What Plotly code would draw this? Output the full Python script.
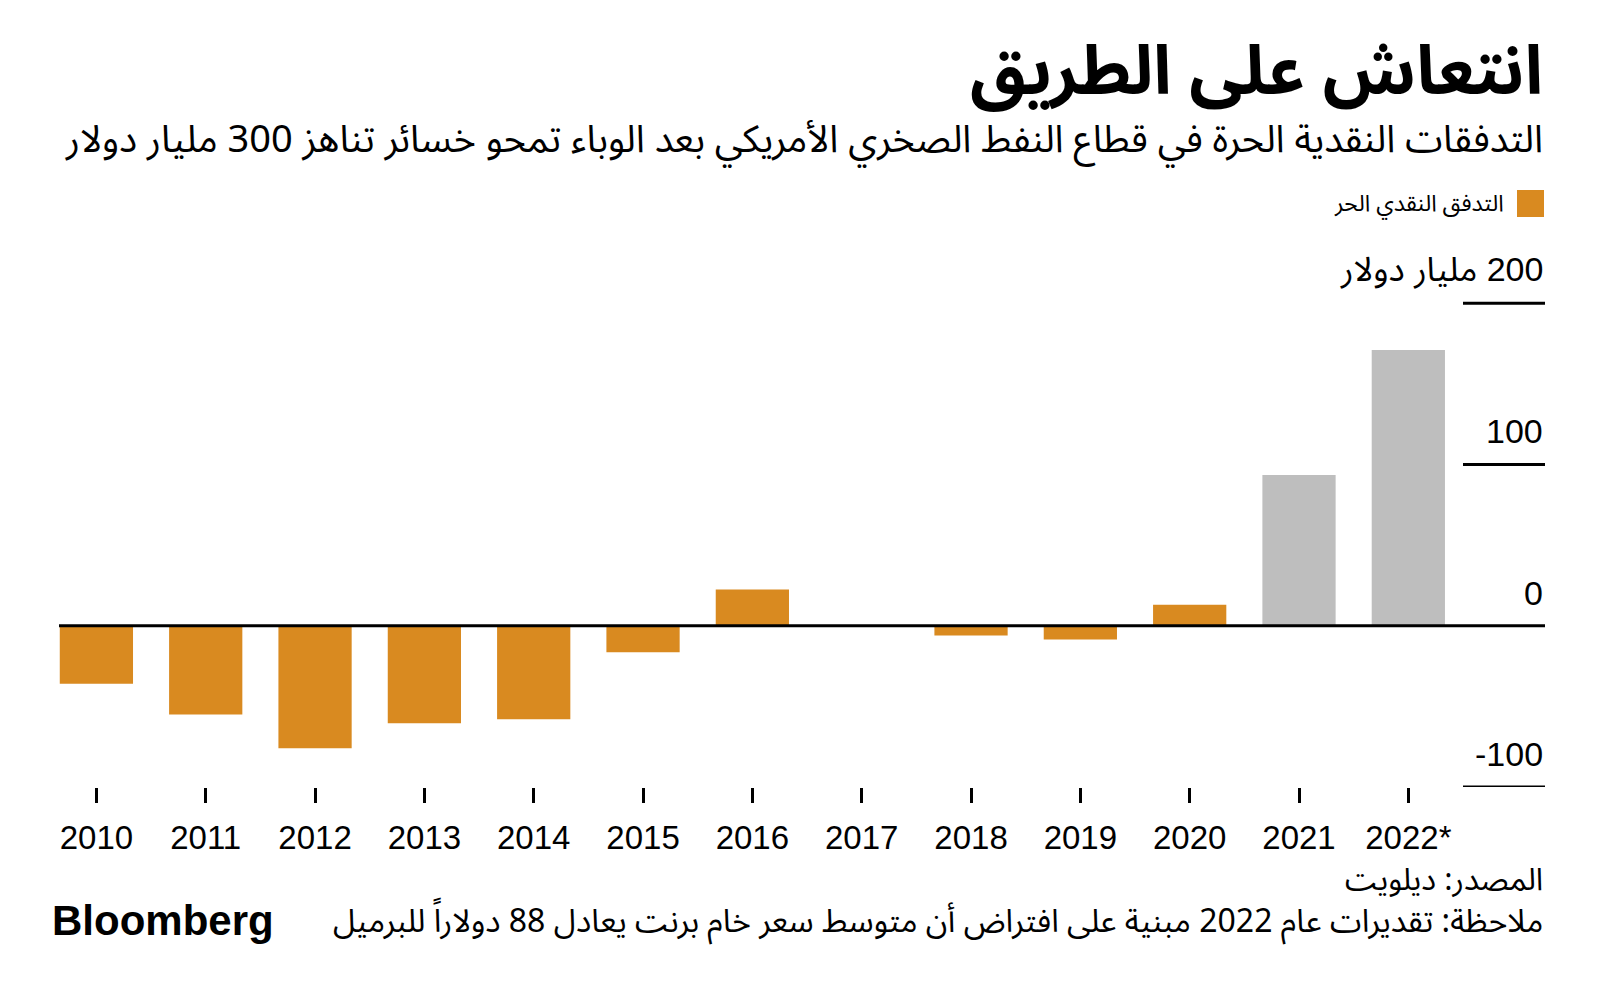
import plotly.graph_objects as go

# ---- data ----
years = ["2010", "2011", "2012", "2013", "2014", "2015", "2016", "2017",
         "2018", "2019", "2020", "2021", "2022*"]
free_cash_flow = [-36, -55, -76, -60.5, -58, -16.5, 22.5, 0, -6, -8.5, 13, 93.5, 171]
is_estimate = [False] * 11 + [True, True]
y_ticks = [-100, 0, 100, 200]
y_tick_text = ["-100", "0", "100", "\u200f200 مليار دولار"]

title = "انتعاش على الطريق"
subtitle = "التدفقات النقدية الحرة في قطاع النفط الصخري الأمريكي بعد الوباء تمحو خسائر تناهز 300 مليار دولار"
legend_label = "التدفق النقدي الحر"
source = "المصدر: ديلويت"
note = "ملاحظة: تقديرات عام 2022 مبنية على افتراض أن متوسط سعر خام برنت يعادل 88 دولاراً للبرميل"

ORANGE = "#D98A20"
GREY = "#BEBEBE"
AR_FONT = "Noto Sans Arabic, DejaVu Sans, sans-serif"
NUM_FONT = "Liberation Sans, Arial, sans-serif"

OFF = 8  # default page body margin
W, H = 1600 - OFF, 999 - OFF
# plot area in screen pixels: x 59..1545, y 287..787
M_L = 59 - OFF
M_R = W - (1545 - OFF)
M_T = 287 - OFF
M_B = H - (787 - OFF)
X_MIN, X_MAX = -0.342, 13.25
Y_MIN, Y_MAX = -100, 210


def py(pix):
    """screen pixel y -> paper y"""
    return (H - M_B - (pix - OFF)) / (H - M_T - M_B)


def px(pix):
    """screen pixel x -> paper x"""
    return ((pix - OFF) - M_L) / (W - M_L - M_R)


xs = list(range(len(years)))
colors = [GREY if e else ORANGE for e in is_estimate]

fig = go.Figure()
fig.add_trace(go.Bar(x=xs, y=free_cash_flow, marker=dict(color=colors, line=dict(width=0)),
                     width=0.67, showlegend=False))

shapes = []
# zero line
shapes.append(dict(type="line", xref="paper", yref="y", x0=0, x1=1, y0=0, y1=0,
                   line=dict(color="black", width=3), layer="above"))
# short gridlines at right
for v in y_ticks:
    if v == 0:
        continue
    shapes.append(dict(type="line", xref="x", yref="y", x0=12.5, x1=X_MAX, y0=v, y1=v,
                       line=dict(color="black", width=3), layer="above"))
# legend swatch
shapes.append(dict(type="rect", xref="paper", yref="paper",
                   x0=px(1517), x1=px(1544), y0=py(190), y1=py(217),
                   fillcolor=ORANGE, line=dict(width=0)))

annotations = []
for v, t in zip(y_ticks, y_tick_text):
    annotations.append(dict(x=1, xref="paper", y=v, yref="y", text=t, showarrow=False,
                            xanchor="right", yanchor="bottom", yshift=12,
                            font=dict(family="Liberation Sans, " + AR_FONT, size=34, color="black")))

annotations += [
    dict(x=1, xref="paper", y=py(72), yref="paper", text="<b>" + title + "</b>", showarrow=False,
         xanchor="right", yanchor="middle", font=dict(family=AR_FONT, size=68, color="black")),
    dict(x=1, xref="paper", y=py(140), yref="paper", text=subtitle, showarrow=False,
         xanchor="right", yanchor="middle", font=dict(family=AR_FONT, size=38, color="black")),
    dict(x=px(1506), xref="paper", y=py(203), yref="paper", text=legend_label, showarrow=False,
         xanchor="right", yanchor="middle", font=dict(family=AR_FONT, size=23, color="black")),
    dict(x=1, xref="paper", y=py(880), yref="paper", text=source, showarrow=False,
         xanchor="right", yanchor="middle", font=dict(family=AR_FONT, size=31, color="black")),
    dict(x=1, xref="paper", y=py(922), yref="paper", text=note, showarrow=False,
         xanchor="right", yanchor="middle", font=dict(family=AR_FONT, size=32, color="black")),
    dict(x=px(50), xref="paper", y=py(920), yref="paper", text="<b>Bloomberg</b>", showarrow=False,
         xanchor="left", yanchor="middle",
         font=dict(family="Liberation Sans, Arial, sans-serif", size=42, color="black")),
]

fig.update_layout(
    width=W, height=H,
    margin=dict(t=M_T, b=M_B, l=M_L, r=M_R, pad=0),
    paper_bgcolor="white", plot_bgcolor="white",
    shapes=shapes, annotations=annotations,
    showlegend=False,
    xaxis=dict(range=[X_MIN, X_MAX], tickmode="array", tickvals=xs, ticktext=years,
               showgrid=False, zeroline=False, showline=False,
               ticks="outside", ticklen=15, tickwidth=3, tickcolor="black",
               tickfont=dict(family=NUM_FONT, size=33, color="black"),
               ticklabelstandoff=6, fixedrange=True),
    yaxis=dict(range=[Y_MIN, Y_MAX], showgrid=False, zeroline=False, showline=False,
               showticklabels=False, ticks="", fixedrange=True),
)

fig.write_html("out.html")
